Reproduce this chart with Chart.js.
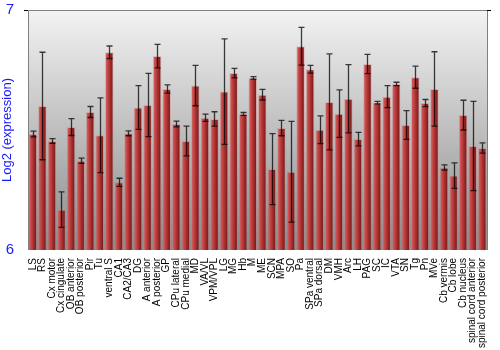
<!DOCTYPE html>
<html>
<head>
<meta charset="utf-8">
<script src="https://cdn.jsdelivr.net/npm/chart.js@4"></script>
<style>
  html, body { margin: 0; padding: 0; background: #fff; }
  #wrap { width: 500px; height: 350px; }
</style>
</head>
<body>
<div id="wrap"><canvas id="c"></canvas></div>
<script>
// regions, as on the x axis
const regions = [
  "LS", "RS", "Cx motor", "Cx cingulate", "OB anterior", "OB posterior", "Pir", "Tu",
  "ventral S", "CA1", "CA2/CA3", "DG", "A anterior", "A posterior", "GP", "CPu lateral",
  "CPu medial", "MD", "VA/VL", "VPM/VPL", "LG", "MG", "Hb", "M", "ME", "SCN", "MPA",
  "SO", "Pa", "SPa ventral", "SPa dorsal", "DM", "VMH", "Arc", "LH", "PAG", "SC", "IC",
  "VTA", "SN", "Tg", "Pn", "MVe", "Cb vermis", "Cb lobe", "Cb nucleus",
  "spinal cord anterior", "spinal cord posterior"
];

// mean log2 expression
const expression = [
  6.483, 6.600, 6.454, 6.168, 6.512, 6.372, 6.575, 6.478,
  6.824, 6.282, 6.486, 6.594, 6.604, 6.808, 6.671, 6.525,
  6.454, 6.685, 6.551, 6.546, 6.660, 6.737, 6.567, 6.717, 6.647, 6.337, 6.508,
  6.326, 6.849, 6.753, 6.501, 6.617, 6.568, 6.630, 6.462, 6.775, 6.614, 6.639,
  6.692, 6.521, 6.720, 6.612, 6.671, 6.344, 6.310, 6.562,
  6.433, 6.425
];

// +/- error
const errors = [
  0.012, 0.224, 0.010, 0.074, 0.035, 0.011, 0.023, 0.156,
  0.026, 0.017, 0.010, 0.091, 0.132, 0.049, 0.017, 0.012,
  0.062, 0.084, 0.015, 0.030, 0.220, 0.020, 0.006, 0.005, 0.022, 0.148, 0.032,
  0.210, 0.079, 0.016, 0.058, 0.200, 0.099, 0.142, 0.028, 0.040, 0.005, 0.046,
  0.007, 0.060, 0.046, 0.015, 0.155, 0.011, 0.053, 0.062,
  0.186, 0.021
];

const yTicks = [6, 7];
const BLUE = "#1a1aff";

// gray backdrop + frame
const backdrop = {
  id: "backdrop",
  beforeDraw(chart) {
    const { ctx, chartArea: a } = chart;
    const g = ctx.createLinearGradient(0, a.top, 0, a.bottom);
    g.addColorStop(0, "#f3f3f3");
    g.addColorStop(1, "#8a8a8a");
    ctx.save();
    ctx.fillStyle = g;
    ctx.fillRect(a.left, a.top, a.right - a.left, a.bottom - a.top);
    ctx.strokeStyle = "#808080";
    ctx.lineWidth = 1;
    ctx.beginPath();
    ctx.moveTo(a.left + 0.5, a.bottom);
    ctx.lineTo(a.left + 0.5, a.top + 0.5);
    ctx.lineTo(a.right + 0.5, a.top + 0.5);
    ctx.lineTo(a.right + 0.5, a.bottom);
    ctx.stroke();
    // tick marks at the top value
    ctx.strokeStyle = "#000";
    ctx.beginPath();
    ctx.moveTo(a.left - 4, a.top + 0.5);
    ctx.lineTo(a.left, a.top + 0.5);
    ctx.moveTo(a.right, a.top + 0.5);
    ctx.lineTo(a.right + 4, a.top + 0.5);
    ctx.stroke();
    ctx.restore();
  }
};

// error bars with caps
const errorBars = {
  id: "errorBars",
  afterDatasetsDraw(chart) {
    const { ctx } = chart;
    const y = chart.scales.y;
    const meta = chart.getDatasetMeta(0);
    ctx.save();
    ctx.strokeStyle = "rgba(0,0,0,0.75)";
    ctx.lineWidth = 1.3;
    meta.data.forEach((bar, i) => {
      const x = Math.round(bar.x) + 0.5;
      const hi = y.getPixelForValue(expression[i] + errors[i]);
      const lo = y.getPixelForValue(expression[i] - errors[i]);
      ctx.beginPath();
      ctx.moveTo(x, hi);
      ctx.lineTo(x, lo);
      ctx.moveTo(x - 3, hi);
      ctx.lineTo(x + 3, hi);
      ctx.moveTo(x - 3, lo);
      ctx.lineTo(x + 3, lo);
      ctx.stroke();
    });
    ctx.restore();
  }
};

// shaded red fill per bar
function barFill(c) {
  const chart = c.chart;
  const xs = chart.scales.x;
  if (!chart.chartArea || !xs) return "#b03535";
  const cx = xs.getPixelForValue(c.dataIndex);
  const half = (xs.width / regions.length) * 0.9 / 2;
  const g = chart.ctx.createLinearGradient(cx - half, 0, cx + half, 0);
  g.addColorStop(0, "#b23a3a");
  g.addColorStop(0.15, "#d25858");
  g.addColorStop(0.5, "#b23434");
  g.addColorStop(1, "#6a1212");
  return g;
}

// drop the label overhang padding so the plot box sits where it should
function noPad(s) {
  s.paddingTop = 0;
  s.paddingBottom = 0;
  s.paddingLeft = 0;
  s.paddingRight = 0;
}

new Chart(document.getElementById("c"), {
  type: "bar",
  data: {
    labels: regions,
    datasets: [{
      data: expression,
      backgroundColor: barFill,
      borderColor: "rgba(215,120,120,0.35)",
      borderWidth: 1,
      barPercentage: 0.9,
      categoryPercentage: 1.0,
    }],
  },
  options: {
    responsive: true,
    maintainAspectRatio: false,
    animation: false,
    layout: { padding: { top: 10, left: 0, right: 0, bottom: 0 } },
    plugins: { legend: { display: false }, tooltip: { enabled: false } },
    scales: {
      x: {
        grid: { display: false },
        border: { display: false },
        ticks: {
          autoSkip: false, minRotation: 90, maxRotation: 90, padding: 0,
          color: "#000", font: { family: "Liberation Sans, Arial", size: 10 },
        },
        afterFit(s) { s.height = 100; noPad(s); },
      },
      y: {
        min: 6, max: 7,
        afterBuildTicks(s) { s.ticks = yTicks.map(v => ({ value: v })); },
        grid: { display: false },
        border: { display: false },
        title: {
          display: true, text: "Log2 (expression)", color: BLUE, padding: { top: 0, bottom: 0 },
          font: { family: "Liberation Sans, Arial", size: 13 },
        },
        ticks: {
          color: BLUE, padding: 6,
          font: { family: "Liberation Sans, Arial", size: 15 },
        },
        afterFit(s) { s.width = 28; noPad(s); },
      },
      y2: {
        position: "right",
        min: 6, max: 7,
        afterBuildTicks(s) { s.ticks = yTicks.map(v => ({ value: v })); },
        grid: { display: false },
        border: { display: false },
        ticks: {
          color: BLUE, padding: 5,
          font: { family: "Liberation Sans, Arial", size: 15 },
        },
        afterFit(s) { s.width = 13; noPad(s); },
      },
    },
  },
  plugins: [backdrop, errorBars],
});
</script>
</body>
</html>
